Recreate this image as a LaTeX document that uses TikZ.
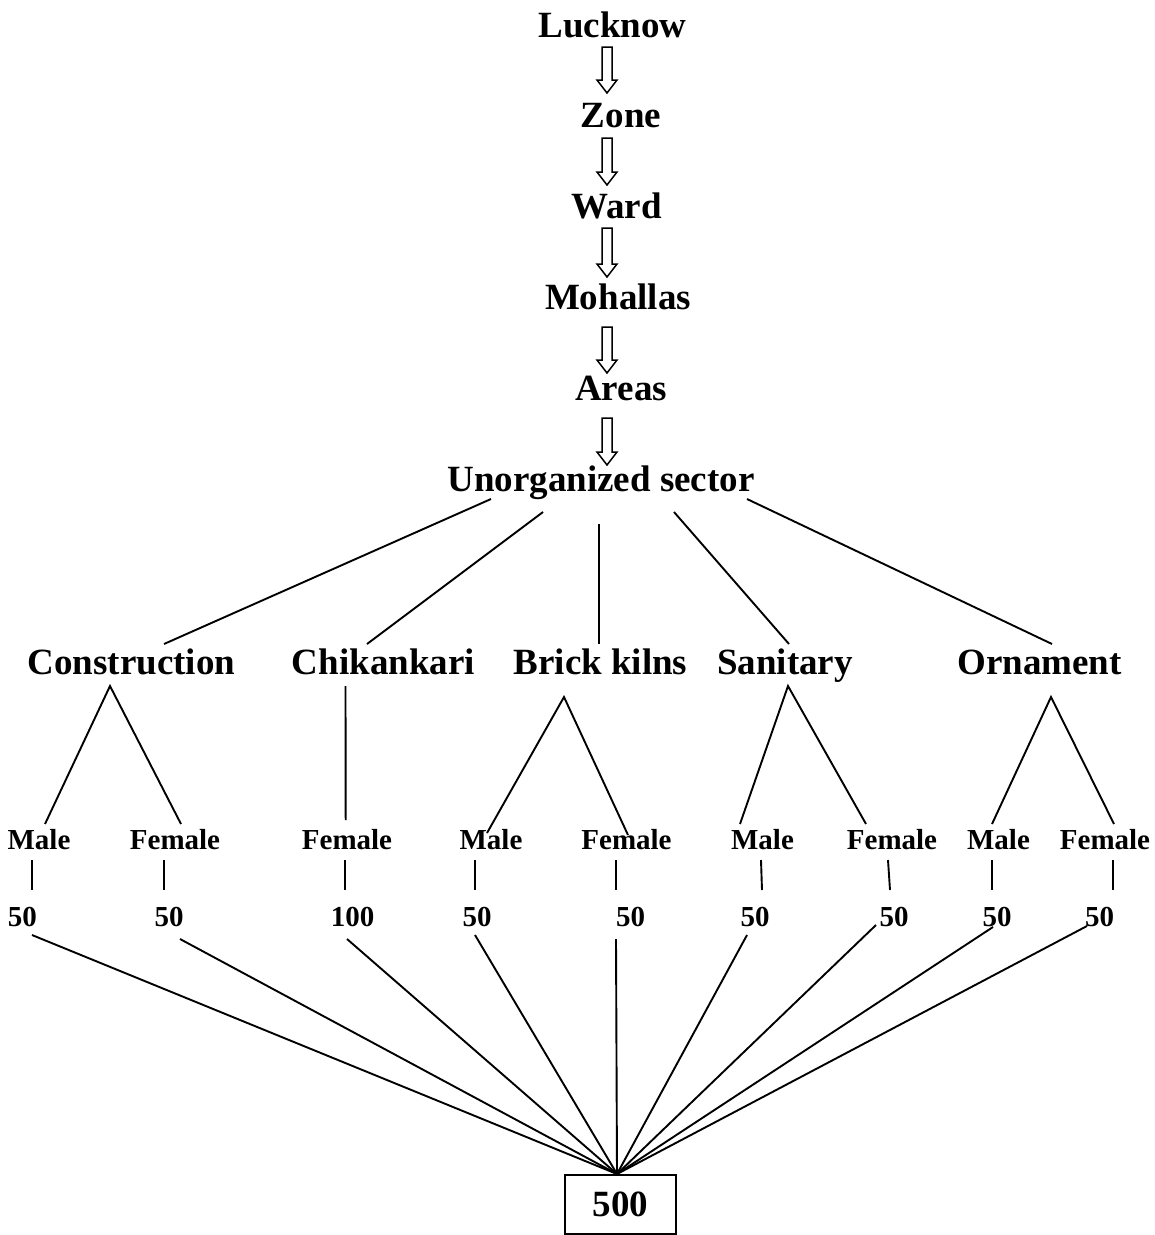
\documentclass[tikz,border=0pt]{standalone}
\usepackage{fontspec}
\setmainfont{Liberation Serif}
\usetikzlibrary{calc}
\tikzset{
  big/.style={font=\fontsize{37}{40}\selectfont\bfseries, inner sep=0pt, anchor=base},
  small/.style={font=\fontsize{29}{32}\selectfont\bfseries, inner sep=0pt, anchor=base},
  link/.style={line width=1.9pt},
  hollow/.style={line width=1.5pt, fill=white, line join=miter},
  totalbox/.style={draw, line width=2pt, minimum width=111pt, minimum height=59pt, inner sep=0pt,
    font=\fontsize{37}{40}\selectfont\bfseries}
}
\newcommand{\harrow}[4]{%
  \draw[hollow] let \p1=([yshift=-#3pt]#1.base), \p2=([yshift=#4pt]#2.base) in
    (602pt,\y1) -- (612pt,\y1) -- (612pt,\y2+13pt) -- (617pt,\y2+13pt) -- (607pt,\y2)
    -- (597pt,\y2+13pt) -- (602pt,\y2+13pt) -- cycle;}
\begin{document}
\begin{tikzpicture}[x=1pt,y=-1pt]
\useasboundingbox (0,0) rectangle (1155,1235);
% top chain
\node[big] (luck) at (612.5,37) {Lucknow};
\node[big] (zone) at (621,127) {Zone};
\node[big] (ward) at (616.5,218) {Ward};
\node[big] (moh) at (618,309) {Mohallas};
\node[big] (area) at (621,400) {Areas};
\node[big] (us) at (601,491) {Unorganized sector};
\harrow{luck}{zone}{10}{34}
\harrow{zone}{ward}{11}{33}
\harrow{ward}{moh}{10}{32}
\harrow{moh}{area}{18}{27}
\harrow{area}{us}{18}{26}
% sectors
\node[big] (con) at (131.5,674) {Construction};
\node[big] (chik) at (383.5,674) {Chikankari};
\node[big] (brick) at (600.5,674) {Brick kilns};
\node[big] (san) at (785,674) {Sanitary};
\node[big] (orn) at (1039.5,674) {Ornament};
\draw[link] ($(us.base)+(-110,8)$) -- ($(con.base)+(32.5,-30)$);
\draw[link] ($(us.base)+(-58,21)$) -- ($(chik.base)+(-16.5,-30)$);
\draw[link] ($(us.base)+(-2,33)$) -- ($(brick.base)+(-1.5,-30)$);
\draw[link] ($(us.base)+(73,21)$) -- ($(san.base)+(4,-30)$);
\draw[link] ($(us.base)+(146,8)$) -- ($(orn.base)+(12.5,-30)$);
% gender
\node[small] (m1) at (39,849) {Male};
\node[small] (f1) at (175,849) {Female};
\node[small] (f2) at (347,849) {Female};
\node[small] (m3) at (491,849) {Male};
\node[small] (f3) at (626.5,849) {Female};
\node[small] (m4) at (762.5,849) {Male};
\node[small] (f4) at (892,849) {Female};
\node[small] (m5) at (998.5,849) {Male};
\node[small] (f5) at (1105,849) {Female};
\draw[link] ($(m1.base)+(6,-25)$) -- ($(con.base)+(-21.5,12)$) -- ($(f1.base)+(6,-25)$);
\draw[link] ($(chik.base)+(-38,12)$) -- ($(f2.base)+(-1.3,-29)$);
\draw[link] ($(m3.base)+(-4,-16)$) -- ($(brick.base)+(-36.5,23)$) -- ($(f3.base)+(1.5,-14)$);
\draw[link] ($(m4.base)+(-22.5,-25)$) -- ($(san.base)+(3,12)$) -- ($(f4.base)+(-26,-25)$);
\draw[link] ($(m5.base)+(-6.5,-25)$) -- ($(orn.base)+(11.5,23)$) -- ($(f5.base)+(9,-25)$);
% numbers
\node[small] (n1) at (22.5,926) {50};
\node[small] (n2) at (169,926) {50};
\node[small] (n3) at (352.5,926) {100};
\node[small] (n4) at (477,926) {50};
\node[small] (n5) at (630.5,926) {50};
\node[small] (n6) at (755,926) {50};
\node[small] (n7) at (894,926) {50};
\node[small] (n8) at (997,926) {50};
\node[small] (n9) at (1099.5,926) {50};
\draw[link] ($(m1.base)+(-7,11)$) -- ($(n1.base)+(9.5,-36)$);
\draw[link] ($(f1.base)+(-11,11)$) -- ($(n2.base)+(-5,-36)$);
\draw[link] ($(f2.base)+(-2,11)$) -- ($(n3.base)+(-7.5,-36)$);
\draw[link] ($(m3.base)+(-16,11)$) -- ($(n4.base)+(-2,-36)$);
\draw[link] ($(f3.base)+(-10.5,11)$) -- ($(n5.base)+(-14.5,-36)$);
\draw[link] ($(m4.base)+(-1.5,11)$) -- ($(n6.base)+(7,-36)$);
\draw[link] ($(f4.base)+(-4,11)$) -- ($(n7.base)+(-4,-36)$);
\draw[link] ($(m5.base)+(-6.5,11)$) -- ($(n8.base)+(-5,-36)$);
\draw[link] ($(f5.base)+(8,11)$) -- ($(n9.base)+(13.5,-36)$);
% total
\node[totalbox] (total) at (620.5,1204.5) {500};
\coordinate (apex) at ($(total.north)+(-3.5,0)$);
\draw[link] ($(n1.base)+(9.5,9)$) -- (apex);
\draw[link] ($(n2.base)+(11,13)$) -- (apex);
\draw[link] ($(n3.base)+(-5.5,13)$) -- (apex);
\draw[link] ($(n4.base)+(-2,9)$) -- (apex);
\draw[link] ($(n5.base)+(-14.5,13)$) -- (apex);
\draw[link] ($(n6.base)+(-8,9)$) -- (apex);
\draw[link] ($(n7.base)+(-18,-1)$) -- (apex);
\draw[link] ($(n8.base)+(-4,1)$) -- (apex);
\draw[link] ($(n9.base)+(-12.5,0)$) -- (apex);
\end{tikzpicture}
\end{document}
